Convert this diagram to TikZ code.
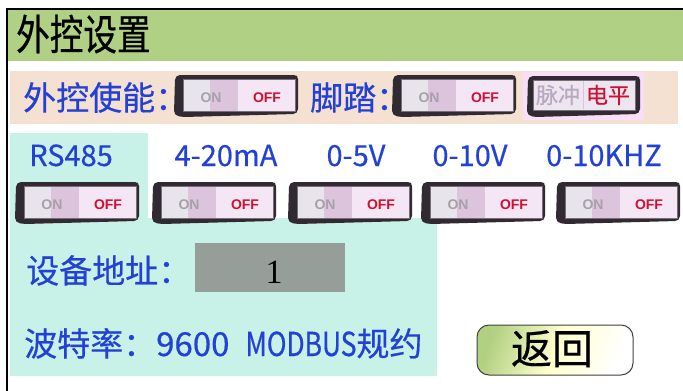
\documentclass[tikz,border=0pt]{standalone}
\usepackage{fontspec}
\newfontfamily\cjk[FakeBold=0.5]{Noto Sans CJK SC}
\newfontfamily\cjknarrow[FakeBold=0.5,FakeStretch=0.8]{Noto Sans CJK SC}
\newfontfamily\cjktitle[FakeStretch=0.8,FakeBold=0.6]{Noto Sans CJK SC}
\newfontfamily\swfont{Liberation Sans}
\newfontfamily\numfont{Liberation Serif}
\definecolor{titlegreen}{RGB}{176,208,132}
\definecolor{peach}{RGB}{245,225,210}
\definecolor{cyanbg}{RGB}{200,242,232}
\definecolor{txtblue}{RGB}{35,65,215}
\definecolor{swdark}{RGB}{50,42,50}
\definecolor{swA}{RGB}{232,228,236}
\definecolor{swB}{RGB}{220,196,220}
\definecolor{swC}{RGB}{244,230,244}
\definecolor{swedge}{RGB}{120,110,120}
\definecolor{ongrey}{RGB}{168,160,168}
\definecolor{offred}{RGB}{208,16,48}
\definecolor{boxgrey}{RGB}{150,158,154}
\definecolor{glow}{RGB}{248,222,248}
\definecolor{pulse}{RGB}{184,168,192}
\definecolor{btngreen}{RGB}{178,208,130}
\definecolor{btnyellow}{RGB}{255,255,205}
\newcommand{\onoffsw}[3]{%
  \begin{scope}[shift={(#2,#3)}]
    \fill[swdark, rounded corners=2] (1,3) -- (4,0) -- (122,0) -- (124,2) -- (124,36) -- (121,39) -- (10,42) -- (3,41) -- (0,38) -- cycle;
    \fill[swA] (9,4) rectangle (36,36);
    \fill[swB] (36,4) rectangle (64,36);
    \fill[swC] (64,4) rectangle (121,36);
    \draw[swedge, line width=0.6pt] (9,4) rectangle (121,36);
    \node[ontext] (#1on) at (37,23) {ON};
    \node[offtext] (#1off) at (93,23) {OFF};
  \end{scope}}
\begin{document}
\begin{tikzpicture}[x=1pt,y=-1pt,
  lbl/.style={inner sep=0pt, anchor=base west, text=txtblue, font=\cjk\fontsize{33}{33}\selectfont},
  swlbl/.style={inner sep=0pt, anchor=base, text=txtblue, font=\cjk\fontsize{29}{29}\selectfont},
  ontext/.style={inner sep=0pt, text=ongrey, font=\swfont\bfseries\fontsize{14}{14}\selectfont},
  offtext/.style={inner sep=0pt, text=offred, font=\swfont\bfseries\fontsize{14}{14}\selectfont}]
\useasboundingbox (0,0) rectangle (683,391);
\fill[white] (0,0) rectangle (683,391);
% backgrounds
\fill[titlegreen] (7,9) rectangle (683,61);
\fill[peach] (10,71) rectangle (678,124);
\fill[cyanbg] (10,133) -- (148,133) -- (148,218) -- (437,218) -- (437,376) -- (10,376) -- cycle;
% frame
\draw[black, line width=2pt] (6,8.5) -- (683,8.5);
\draw[black, line width=2pt] (7,8) -- (7,391);
% title
\node[inner sep=0pt, anchor=base west, font=\cjktitle\fontsize{42}{42}\selectfont] (title) at (16,50) {外控设置};
% row 2
\node[lbl] (ext) at (23,110) {外控使能：};
\onoffsw{extsw}{174}{75}
\node[lbl] (pedal) at (310,110) {脚踏：};
\onoffsw{pedalsw}{392}{75}
\fill[glow] (523,72) rectangle (644,120);
\fill[swdark, rounded corners=2] (528,79) -- (531,76) -- (638,76) -- (640,78) -- (640,111) -- (637,114) -- (536,117) -- (530,116) -- (527,113) -- cycle;
\fill[swA!60!swC] (533,80) rectangle (635,110);
\draw[swedge, line width=0.6pt] (533,80) rectangle (635,110);
\draw[swB, line width=1pt] (583,81) -- (583,109);
\node[inner sep=0pt, text=pulse, font=\cjk\fontsize{22}{22}\selectfont] (pulse) at (558,95) {脉冲};
\node[inner sep=0pt, text=offred, font=\cjk\fontsize{22}{22}\selectfont] (level) at (608,95) {电平};
% row 3 labels
\node[swlbl] (l1) at (71,166) {RS485};
\node[swlbl] (l2) at (226,166) {4-20mA};
\node[swlbl] (l3) at (356,166) {0-5V};
\node[swlbl] (l4) at (470,166) {0-10V};
\node[swlbl] (l5) at (604,166) {0-10KHZ};
\onoffsw{s1}{15}{182}
\onoffsw{s2}{152}{182}
\onoffsw{s3}{288}{182}
\onoffsw{s4}{421}{182}
\onoffsw{s5}{556}{182}
% address
\node[lbl] (addr) at (26,283) {设备地址：};
\fill[boxgrey] (195,243) rectangle (345,292);
\node[inner sep=0pt, anchor=base, font=\numfont\fontsize{34}{34}\selectfont] (addrval) at (274,283) {1};
% baud
\node[lbl] (baud) at (24,356) {波特率：9600\hspace{16pt}{\cjknarrow MODBUS}规约};
% back button
\shade[left color=btngreen, right color=white, middle color=btnyellow, shading angle=70, rounded corners=12] (477,325) rectangle (633,375);
\draw[black!75, line width=1pt, rounded corners=12] (477,325) rectangle (633,375);
\node[inner sep=0pt, anchor=base, font=\cjk\fontsize{41}{41}\selectfont] (back) at (552,364) {返回};
\end{tikzpicture}
\end{document}
